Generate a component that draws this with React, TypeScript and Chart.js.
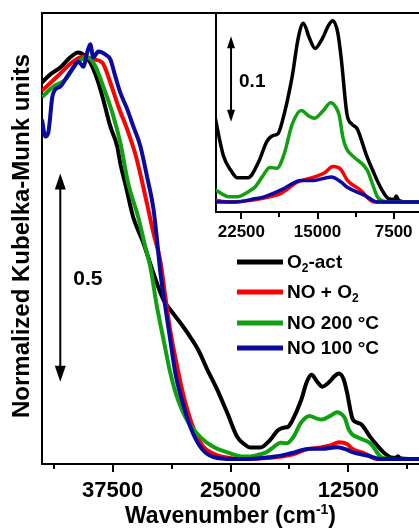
import React, { useEffect, useRef } from "react";
import { Chart, registerables } from "chart.js";

Chart.register(...registerables);

const FONT = "'Liberation Sans', Arial, Helvetica, sans-serif";

// ---------- data (wavenumber in cm-1, normalized Kubelka-Munk) ----------
const O2ACT_WN = [45000, 44120, 43060, 42000, 41150, 40620, 39880, 39130, 38500, 37750, 37010, 36692, 36162, 35313, 34252, 33191, 32130, 31387, 30326, 29265, 28417, 27461, 26400, 25340, 24280, 23500, 22900, 21840, 20780, 20000, 19400, 18900, 18500, 17500, 16900, 16400, 15800, 15250, 14500, 13900, 13500, 13000, 12650, 12100, 11600, 11100, 10200, 9500, 8700, 8000, 7400, 7250, 7000, 6000, 5000];
const O2ACT_KM = [0.926, 0.946, 0.963, 0.988, 1.0, 0.995, 0.975, 0.933, 0.884, 0.818, 0.768, 0.727, 0.677, 0.594, 0.532, 0.458, 0.392, 0.367, 0.335, 0.3, 0.268, 0.22, 0.17, 0.113, 0.054, 0.036, 0.028, 0.028, 0.047, 0.07, 0.077, 0.079, 0.092, 0.145, 0.19, 0.207, 0.19, 0.178, 0.19, 0.205, 0.21, 0.196, 0.165, 0.102, 0.09, 0.085, 0.055, 0.035, 0.015, 0.004, 0.003, 0.007, 0.002, 0, 0];

const NOO2_WN = [45000, 43380, 41680, 40620, 39560, 38600, 37750, 36900, 35950, 35100, 34570, 33860, 33159, 32448, 31918, 31387, 30680, 29976, 28915, 27880, 26800, 25760, 23642, 21500, 19400, 18600, 17000, 15300, 14300, 13500, 13000, 12650, 12050, 10800, 9400, 5000];
const NOO2_KM = [0.906, 0.941, 0.978, 0.99, 0.983, 0.975, 0.926, 0.867, 0.81, 0.75, 0.701, 0.628, 0.554, 0.488, 0.4, 0.315, 0.23, 0.155, 0.075, 0.03, 0.013, 0.005, 0, 0.002, 0.007, 0.01, 0.023, 0.029, 0.034, 0.041, 0.04, 0.037, 0.025, 0.014, 0, 0];

const NO200_WN = [45000, 43800, 42530, 41250, 40190, 39340, 38500, 37540, 36690, 35843, 34782, 34040, 33510, 32800, 32100, 31387, 30680, 29620, 28200, 26825, 25020, 23700, 22900, 21800, 21100, 20400, 19700, 19000, 18300, 17500, 16600, 15900, 15300, 14500, 13700, 13200, 12850, 12500, 12150, 11400, 10100, 9500, 9100, 8500, 7000, 5000];
const NO200_KM = [0.89, 0.916, 0.933, 0.975, 0.988, 0.966, 0.916, 0.852, 0.778, 0.677, 0.594, 0.522, 0.473, 0.374, 0.293, 0.212, 0.153, 0.096, 0.054, 0.03, 0.014, 0.006, 0.006, 0.012, 0.018, 0.03, 0.04, 0.039, 0.055, 0.09, 0.106, 0.1, 0.097, 0.105, 0.115, 0.11, 0.1, 0.075, 0.062, 0.052, 0.037, 0.018, 0.006, 0.001, 0, 0];

const NO100_WN = [45000, 44650, 44330, 43910, 43590, 43060, 42320, 41680, 41150, 40620, 40200, 39880, 39560, 39030, 38290, 37750, 37220, 36690, 35950, 35310, 34570, 33860, 33191, 32800, 32450, 31920, 31390, 30860, 30150, 29265, 28200, 26825, 24700, 23000, 21500, 20262, 18584, 16609, 15326, 13648, 12660, 12068, 10392, 9107, 5000];
const NO100_KM = [0.835, 0.793, 0.803, 0.89, 0.909, 0.916, 0.941, 0.963, 0.978, 0.965, 1.0, 1.02, 0.988, 1.002, 0.995, 0.983, 0.941, 0.901, 0.86, 0.818, 0.77, 0.695, 0.618, 0.54, 0.46, 0.374, 0.293, 0.212, 0.145, 0.079, 0.03, 0.005, 0, 0, 0.003, 0.006, 0.014, 0.025, 0.025, 0.029, 0.023, 0.017, 0.008, 0, 0];

const MAIN_MAJOR_TICKS = [37500, 25000, 12500];
const MAIN_MINOR_TICKS = [43750, 31250, 18750, 6250];
const INSET_MAJOR_TICKS = [22500, 15000, 7500];
const INSET_MINOR_TICKS = [18750, 11250];

// scale bars (value units)
const MAIN_BAR = { x: 43060, lo: 0.19, hi: 0.702, labelX: 41680, labelY: 0.442, text: "0.5" };
const INSET_BAR = { x: 23519, lo: 0.093, hi: 0.192, labelX: 22730, labelY: 0.1395, text: "0.1" };

type Part = { t: string; sub?: boolean; sup?: boolean };

const SERIES = [
  { wn: O2ACT_WN, km: O2ACT_KM, color: "#000000", order: 4, legend: [{ t: "O" }, { t: "2", sub: true }, { t: "-act" }] as Part[] },
  { wn: NOO2_WN, km: NOO2_KM, color: "#ff0000", order: 3, legend: [{ t: "NO + O" }, { t: "2", sub: true }] as Part[] },
  { wn: NO200_WN, km: NO200_KM, color: "#10a010", order: 2, legend: [{ t: "NO 200 °C" }] as Part[] },
  { wn: NO100_WN, km: NO100_KM, color: "#0a0aa0", order: 1, legend: [{ t: "NO 100 °C" }] as Part[] },
];

function makeDatasets(width: number) {
  return SERIES.map((s) => ({
    data: s.wn.map((w, j) => ({ x: w, y: s.km[j] })),
    borderColor: s.color,
    backgroundColor: s.color,
    borderWidth: width,
    pointRadius: 0,
    cubicInterpolationMode: "monotone" as const,
    fill: false,
    order: s.order,
  }));
}

function richWidth(ctx: CanvasRenderingContext2D, parts: Part[], size: number, small: number) {
  let w = 0;
  for (const p of parts) {
    ctx.font = `bold ${p.sub || p.sup ? small : size}px ${FONT}`;
    w += ctx.measureText(p.t).width;
  }
  return w;
}

function drawRich(ctx: CanvasRenderingContext2D, parts: Part[], x: number, y: number, size: number, small: number, shift: number) {
  let cx = x;
  for (const p of parts) {
    ctx.font = `bold ${p.sub || p.sup ? small : size}px ${FONT}`;
    const dy = p.sub ? shift : p.sup ? -shift : 0;
    ctx.fillText(p.t, cx, y + dy);
    cx += ctx.measureText(p.t).width;
  }
}

function drawDoubleArrow(ctx: CanvasRenderingContext2D, x: number, top: number, bottom: number, hw: number, hh: number, lw: number) {
  ctx.lineWidth = lw;
  ctx.beginPath();
  ctx.moveTo(x, top + hh - 2);
  ctx.lineTo(x, bottom - hh + 2);
  ctx.stroke();
  ctx.beginPath();
  ctx.moveTo(x, top);
  ctx.lineTo(x - hw / 2, top + hh);
  ctx.lineTo(x + hw / 2, top + hh);
  ctx.closePath();
  ctx.fill();
  ctx.beginPath();
  ctx.moveTo(x, bottom);
  ctx.lineTo(x - hw / 2, bottom - hh);
  ctx.lineTo(x + hw / 2, bottom - hh);
  ctx.closePath();
  ctx.fill();
}

const LEGEND_ROW_Y = [262, 292, 323, 348];

const mainDecor = {
  id: "mainDecor",
  afterDraw(chart: any) {
    const { ctx, chartArea: a } = chart;
    const xs = chart.scales.x;
    const ys = chart.scales.y;
    ctx.save();
    ctx.strokeStyle = "#000";
    ctx.fillStyle = "#000";
    ctx.lineWidth = 2;
    ctx.beginPath();
    ctx.moveTo(a.left - 1, a.top);
    ctx.lineTo(a.right, a.top);
    ctx.stroke();
    const tick = (v: number, len: number) => {
      const px = Math.round(xs.getPixelForValue(v));
      ctx.beginPath();
      ctx.moveTo(px, a.bottom);
      ctx.lineTo(px, a.bottom + len);
      ctx.stroke();
    };
    MAIN_MAJOR_TICKS.forEach((v) => tick(v, 8));
    MAIN_MINOR_TICKS.forEach((v) => tick(v, 5));

    // scale bar
    drawDoubleArrow(ctx, xs.getPixelForValue(MAIN_BAR.x), ys.getPixelForValue(MAIN_BAR.hi), ys.getPixelForValue(MAIN_BAR.lo), 11, 16, 2);
    ctx.font = `bold 21px ${FONT}`;
    ctx.textAlign = "left";
    ctx.textBaseline = "middle";
    ctx.fillText(MAIN_BAR.text, xs.getPixelForValue(MAIN_BAR.labelX), ys.getPixelForValue(MAIN_BAR.labelY));

    // legend
    SERIES.forEach((s, i) => {
      const y = LEGEND_ROW_Y[i];
      ctx.strokeStyle = s.color;
      ctx.lineWidth = 5;
      ctx.beginPath();
      ctx.moveTo(237, y);
      ctx.lineTo(283, y);
      ctx.stroke();
      ctx.fillStyle = "#000";
      ctx.textBaseline = "middle";
      drawRich(ctx, s.legend, 287, y + 1, 19, 12, 6);
    });

    // x title
    ctx.fillStyle = "#000";
    ctx.textBaseline = "alphabetic";
    const xt: Part[] = [{ t: "Wavenumber (cm" }, { t: "-1", sup: true }, { t: ")" }];
    const w = richWidth(ctx, xt, 23, 14);
    drawRich(ctx, xt, (a.left + a.right) / 2 - w / 2, 523, 23, 14, 9);

    // y title
    ctx.translate(29, 236);
    ctx.rotate(-Math.PI / 2);
    ctx.font = `bold 24px ${FONT}`;
    ctx.textAlign = "center";
    ctx.fillText("Normalized Kubelka-Munk units", 0, 0);
    ctx.restore();
  },
};

const insetDecor = {
  id: "insetDecor",
  afterDraw(chart: any) {
    const { ctx, chartArea: a } = chart;
    const xs = chart.scales.x;
    const ys = chart.scales.y;
    ctx.save();
    ctx.strokeStyle = "#000";
    ctx.fillStyle = "#000";
    ctx.lineWidth = 2;
    ctx.beginPath();
    ctx.moveTo(a.left - 1, a.top);
    ctx.lineTo(a.right, a.top);
    ctx.stroke();
    const tick = (v: number, len: number) => {
      const px = Math.round(xs.getPixelForValue(v));
      ctx.beginPath();
      ctx.moveTo(px, a.bottom);
      ctx.lineTo(px, a.bottom + len);
      ctx.stroke();
    };
    INSET_MAJOR_TICKS.forEach((v) => tick(v, 7));
    INSET_MINOR_TICKS.forEach((v) => tick(v, 5));
    drawDoubleArrow(ctx, xs.getPixelForValue(INSET_BAR.x), ys.getPixelForValue(INSET_BAR.hi), ys.getPixelForValue(INSET_BAR.lo), 8, 12, 2);
    ctx.font = `bold 19px ${FONT}`;
    ctx.textAlign = "left";
    ctx.textBaseline = "middle";
    ctx.fillText(INSET_BAR.text, xs.getPixelForValue(INSET_BAR.labelX), ys.getPixelForValue(INSET_BAR.labelY));
    ctx.restore();
  },
};

function xAxis(min: number, max: number, ticks: number[], majors: number[], height: number, size: number, tickLen: number, pad: number) {
  return {
    type: "linear" as const,
    reverse: true,
    min,
    max,
    afterBuildTicks: (s: any) => {
      s.ticks = ticks.map((v) => ({ value: v }));
    },
    afterFit: (s: any) => {
      s.height = height;
    },
    border: { display: true, width: 2, color: "#000" },
    grid: { display: true, drawOnChartArea: false, drawTicks: true, tickLength: tickLen, color: "rgba(0,0,0,0)" },
    ticks: {
      autoSkip: false,
      maxRotation: 0,
      padding: pad,
      color: "#000",
      font: { family: FONT, size, weight: "bold" as const },
      callback: (v: any) => (majors.includes(Number(v)) ? String(v) : ""),
    },
  };
}

function yAxis(min: number, max: number, width: number) {
  return {
    type: "linear" as const,
    min,
    max,
    afterFit: (s: any) => {
      s.width = width;
    },
    ticks: { display: false },
    grid: { display: false, drawTicks: false },
    border: { display: true, width: 2, color: "#000" },
  };
}

export default function App() {
  const mainRef = useRef<HTMLCanvasElement>(null);
  const insetRef = useRef<HTMLCanvasElement>(null);

  useEffect(() => {
    const common = {
      animation: false as const,
      responsive: false,
      devicePixelRatio: 1,
      events: [] as any[],
      plugins: { legend: { display: false }, tooltip: { enabled: false } },
    };
    const main = new Chart(mainRef.current!, {
      type: "line",
      data: { datasets: makeDatasets(4) as any },
      options: {
        ...common,
        layout: { padding: { top: 13, right: 0, left: 0, bottom: 0 } },
        scales: {
          x: xAxis(5000, 45000, [...MAIN_MINOR_TICKS, ...MAIN_MAJOR_TICKS].sort((p, q) => p - q), MAIN_MAJOR_TICKS, 64, 22, 8, 6),
          y: yAxis(-0.0123, 1.097, 42),
        },
      } as any,
      plugins: [mainDecor],
    });
    const inset = new Chart(insetRef.current!, {
      type: "line",
      data: { datasets: makeDatasets(3.5) as any },
      options: {
        ...common,
        layout: { padding: { top: 13, right: 0, left: 0, bottom: 0 } },
        scales: {
          x: xAxis(5000, 25000, [...INSET_MINOR_TICKS, ...INSET_MAJOR_TICKS].sort((p, q) => p - q), INSET_MAJOR_TICKS, 33, 17, 7, 3),
          y: yAxis(-0.0116, 0.219, 16),
        },
      } as any,
      plugins: [insetDecor],
    });
    return () => {
      main.destroy();
      inset.destroy();
    };
  }, []);

  return (
    <div style={{ position: "absolute", left: 0, top: 0, width: 419, height: 528, background: "#fff", overflow: "hidden" }}>
      <canvas ref={mainRef} width={419} height={528} style={{ position: "absolute", left: 0, top: 0, width: 419, height: 528 }} />
      <canvas ref={insetRef} width={219} height={245} style={{ position: "absolute", left: 200, top: 0, width: 219, height: 245 }} />
    </div>
  );
}
